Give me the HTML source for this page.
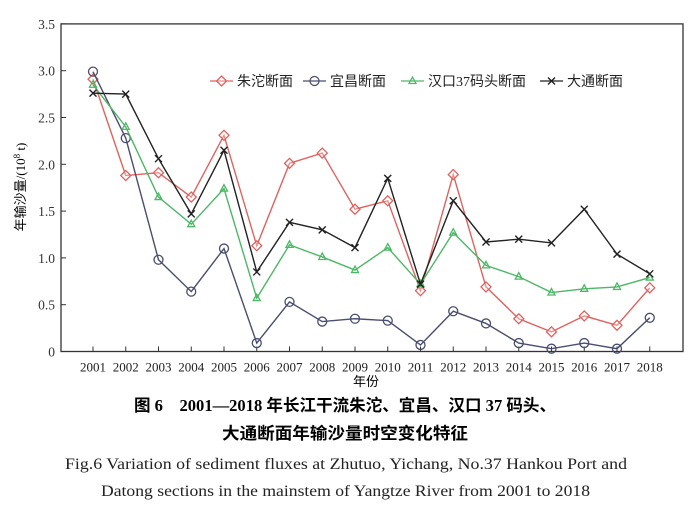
<!DOCTYPE html>
<html><head><meta charset="utf-8"><style>
body{margin:0;background:#fff;width:693px;height:509px;overflow:hidden}
svg{display:block}
</style></head><body>
<svg id="s" width="693" height="509" xmlns="http://www.w3.org/2000/svg" font-family="Liberation Serif, Noto Serif CJK SC, serif">
<g id="g"></g>
<text x="134" y="411" textLength="422" lengthAdjust="spacingAndGlyphs" font-size="16.5" font-weight="bold" font-family="Liberation Serif, Noto Sans CJK SC, sans-serif">图 6　2001—2018 年长江干流朱沱、宜昌、汉口 37 码头、</text>
<text x="222" y="439" textLength="246" lengthAdjust="spacingAndGlyphs" font-size="16.5" font-weight="bold" font-family="Liberation Serif, Noto Sans CJK SC, sans-serif">大通断面年输沙量时空变化特征</text>
<text x="65" y="469" textLength="562" lengthAdjust="spacingAndGlyphs" font-size="16" fill="#222">Fig.6 Variation of sediment fluxes at Zhutuo, Yichang, No.37 Hankou Port and</text>
<text x="101" y="496" textLength="489" lengthAdjust="spacingAndGlyphs" font-size="16" fill="#222">Datong sections in the mainstem of Yangtze River from 2001 to 2018</text>
</svg>
<script>
const g=document.getElementById('g');let h='';
const X0=61,X1=683,Y0=351.5,K=93.6,xs=i=>93+i*32.75,ys=v=>Y0-v*K;
h+=`<rect x="${X0}" y="${ys(3.5)}" width="${X1-X0}" height="${Y0-ys(3.5)}" fill="none" stroke="#333" stroke-width="1.3"/>`;
[0,0.5,1,1.5,2,2.5,3,3.5].forEach(v=>{const y=ys(v);h+=`<line x1="${X0}" x2="${X0+5}" y1="${y}" y2="${y}" stroke="#333"/>`;
h+=`<text x="${X0-6}" y="${y+5}" text-anchor="end" font-size="13.5" fill="#333">${v==0?'0':v.toFixed(1)}</text>`;});
for(let i=0;i<18;i++){const x=xs(i);h+=`<line x1="${x}" x2="${x}" y1="${Y0}" y2="${Y0-5}" stroke="#333"/>`;
h+=`<text x="${x}" y="${Y0+20}" text-anchor="middle" font-size="13" fill="#222">${2001+i}</text>`;}
h+=`<text x="366" y="386" text-anchor="middle" font-size="13" font-family="Noto Sans CJK SC, sans-serif">年份</text>`;
h+=`<text transform="translate(25,187) rotate(-90)" text-anchor="middle" font-size="13" font-family="Liberation Serif, Noto Sans CJK SC, serif">年输沙量/(10<tspan dy="-5" font-size="9">8</tspan><tspan dy="5"> t)</tspan></text>`;
const S=[
{c:'#e0625f',m:'d',d:[2.91,1.88,1.91,1.65,2.31,1.13,2.01,2.12,1.52,1.61,0.65,1.89,0.69,0.35,0.21,0.38,0.28,0.68]},
{c:'#4a4e6e',m:'o',d:[2.99,2.28,0.98,0.64,1.10,0.09,0.53,0.32,0.35,0.33,0.07,0.43,0.30,0.09,0.03,0.09,0.03,0.36]},
{c:'#4cb866',m:'t',d:[2.85,2.40,1.65,1.36,1.74,0.57,1.14,1.01,0.87,1.11,0.72,1.27,0.92,0.80,0.63,0.67,0.69,0.79]},
{c:'#222',m:'x',d:[2.76,2.75,2.06,1.47,2.15,0.85,1.38,1.30,1.11,1.85,0.72,1.61,1.17,1.20,1.16,1.52,1.04,0.83]}];
function mk(m,x,y,c){if(m=='d')return `<path d="M${x} ${y-5}L${x+5} ${y}L${x} ${y+5}L${x-5} ${y}Z" fill="#fff" fill-opacity="0.3" stroke="${c}" stroke-width="1.3"/>`;
if(m=='o')return `<circle cx="${x}" cy="${y}" r="4.5" fill="none" stroke="${c}" stroke-width="1.3"/>`;
if(m=='t')return `<path d="M${x} ${y-4}L${x+3.5} ${y+2.5}L${x-3.5} ${y+2.5}Z" fill="none" stroke="${c}" stroke-width="1.3"/>`;
return `<path d="M${x-3.5} ${y-3.5}L${x+3.5} ${y+3.5}M${x+3.5} ${y-3.5}L${x-3.5} ${y+3.5}" stroke="${c}" stroke-width="1.4"/>`;}
S.forEach(s=>{h+=`<polyline fill="none" stroke="${s.c}" stroke-width="1.4" points="${s.d.map((v,i)=>xs(i)+','+ys(v)).join(' ')}"/>`;
s.d.forEach((v,i)=>h+=mk(s.m,xs(i),ys(v),s.c));});
const L=[[210,'朱沱断面'],[303,'宜昌断面'],[401,'汉口37码头断面'],[540,'大通断面']];
L.forEach((l,i)=>{const c=S[i].c,x=l[0],y=81;h+=`<line x1="${x}" x2="${x+23}" y1="${y}" y2="${y}" stroke="${c}" stroke-width="1.3"/>`+mk(S[i].m,x+11.5,y,c);
h+=`<text x="${x+27}" y="${y+5}" font-size="14" fill="#222" font-family="Liberation Serif, Noto Sans CJK SC, serif">${l[1]}</text>`;});
g.innerHTML=h;
</script>
</body></html>
